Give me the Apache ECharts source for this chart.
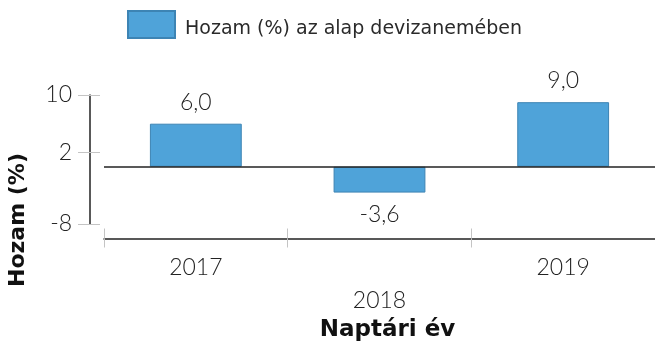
<!DOCTYPE html>
<html>
<head>
<meta charset="utf-8">
<script src="https://cdn.jsdelivr.net/npm/echarts@6/dist/echarts.min.js"></script>
<style>
  html, body { margin: 0; padding: 0; background: #fff; }
  #chart { width: 655px; height: 352px; }
</style>
</head>
<body>
<div id="chart"></div>
<script>
// Calendar-year returns of the fund in its own currency
const years = ['2017', '2018', '2019'];
const returns = [6.0, -3.6, 9.0];
const yTickValues = [10, 2, -8];
const seriesName = 'Hozam (%) az alap devizanemében';
const xTitle = 'Naptári év';
const yTitle = 'Hozam (%)';

const numFont = 'Lato';
const barFill = '#4fa3d9';
const barEdge = '#3d84b4';
const tickGray = '#c4c4c4';

const fmt = v => v.toFixed(1).replace('.', ',');

const chart = echarts.init(document.getElementById('chart'), null, { renderer: 'canvas' });

chart.setOption({
  animation: false,
  textStyle: { fontFamily: numFont },
  legend: {
    left: 127, top: 10, padding: 0,
    itemWidth: 47, itemHeight: 27, itemGap: 12,
    icon: 'rect',
    formatter: n => '{t|' + n + '}',
    textStyle: {
      rich: {
        t: { fontFamily: 'DejaVu Sans', fontSize: 19, color: '#2a2a2a', padding: [10, 0, 0, 5] }
      }
    },
    data: [seriesName]
  },
  grid: [
    // plotting area for the bars
    { left: 104, right: 0, top: 95, bottom: 113.5 },
    // narrow grid that carries the vertical value axis
    { left: 90, width: 10, top: 95, height: 129 }
  ],
  xAxis: [
    {
      type: 'category', gridIndex: 0, data: years,
      axisLine: { onZero: false, lineStyle: { color: '#222', width: 1.5 } },
      axisTick: { show: true, inside: false, length: 9, lineStyle: { color: tickGray, width: 1 } },
      axisLabel: {
        margin: 13, fontSize: 23, color: '#222', lineHeight: 33, fontWeight: 300,
        formatter: (v, i) => (i % 2 === 1 ? '\n' + v : v)
      },
      name: xTitle, nameLocation: 'middle', nameGap: 79,
      nameTextStyle: { fontFamily: 'DejaVu Sans', fontWeight: 'bold', fontSize: 23, color: '#111', padding: [0, 0, 0, 16] }
    },
    {
      type: 'category', gridIndex: 0, data: years, position: 'bottom',
      axisLine: { show: false, onZero: false },
      axisTick: { show: true, inside: true, length: 10, lineStyle: { color: tickGray, width: 1 } },
      axisLabel: { show: false }
    },
    { type: 'value', gridIndex: 1, show: false, min: 0, max: 1 }
  ],
  yAxis: [
    { type: 'value', gridIndex: 0, min: -10, max: 10, show: false },
    {
      type: 'value', gridIndex: 1, min: -8, max: 10, position: 'left',
      splitLine: { show: false },
      axisLine: { show: true, lineStyle: { color: '#222', width: 1.5 } },
      axisTick: { show: true, inside: true, length: 10, customValues: yTickValues, lineStyle: { color: tickGray } },
      axisLabel: { customValues: yTickValues, margin: 18, fontSize: 23, color: '#222', fontWeight: 300 }
    },
    {
      type: 'value', gridIndex: 1, min: -8, max: 10, position: 'left',
      splitLine: { show: false },
      axisLine: { show: false },
      axisTick: { show: true, inside: false, length: 12, customValues: yTickValues, lineStyle: { color: tickGray } },
      axisLabel: { show: false }
    }
  ],
  graphic: [{
    type: 'text', x: 18, y: 220, rotation: Math.PI / 2,
    style: {
      text: yTitle, align: 'center', verticalAlign: 'middle',
      font: 'bold 22px "DejaVu Sans"', fill: '#111'
    }
  }],
  series: [{
    name: seriesName,
    type: 'bar', xAxisIndex: 0, yAxisIndex: 0,
    data: returns.map(v => ({
      value: v,
      label: { position: v < 0 ? 'bottom' : 'top' }
    })),
    barWidth: '50%',
    itemStyle: { color: barFill, borderColor: barEdge, borderWidth: 1 },
    label: {
      show: true, distance: 10, fontSize: 23, color: '#222', fontWeight: 300,
      formatter: p => fmt(p.value)
    },
    markLine: {
      silent: true, symbol: 'none',
      label: { show: false },
      lineStyle: { color: '#222', type: 'solid', width: 1.5 },
      data: [{ yAxis: 0 }]
    }
  }]
});
</script>
</body>
</html>
